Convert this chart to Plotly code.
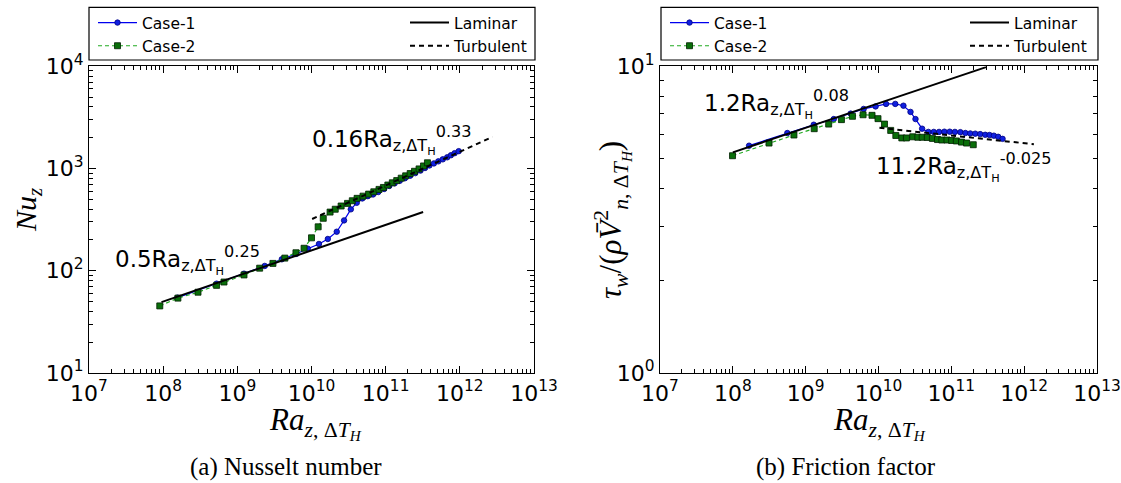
import plotly.graph_objects as go

# ---------------- data ----------------
# (a) Nusselt number
nu_case1_ra = [1.56e8, 5.25e8, 1.23e9, 2.34e9, 3.98e9, 6.17e9, 8.91e9, 1.26e10, 1.66e10,
               2.19e10, 2.75e10, 3.39e10, 4.07e10, 4.84e10, 5.75e10, 6.76e10, 7.94e10,
               9.55e10, 1.12e11, 1.32e11, 1.55e11, 1.82e11, 2.14e11, 2.51e11, 2.95e11,
               3.39e11, 3.89e11, 4.47e11, 5.13e11, 5.89e11, 6.76e11, 7.59e11, 8.51e11, 9.66e11]
nu_case1 = [54.6, 74.8, 93.7, 111.5, 129.5, 145.9, 164.4, 182.8, 204.6,
            241, 311, 399, 462, 510, 537, 558, 589,
            631, 676, 716, 759, 804, 851, 902, 955,
            1012, 1072, 1122, 1175, 1230, 1288, 1349, 1413, 1479]

nu_case2_ra = [9.0e7, 1.58e8, 2.95e8, 5.25e8, 6.61e8, 1.23e9, 2.0e9, 3.02e9, 4.37e9, 6.17e9,
               7.94e9, 1.0e10, 1.23e10, 1.44e10, 1.78e10, 2.09e10, 2.51e10, 3.06e10, 3.55e10,
               4.12e10, 4.95e10, 5.89e10, 6.92e10, 8.13e10, 9.33e10, 1.07e11, 1.23e11,
               1.41e11, 1.62e11, 1.86e11, 2.14e11, 2.45e11, 2.82e11, 3.24e11, 3.66e11]
nu_case2 = [45.3, 54.0, 61.7, 72.0, 77.6, 91, 106, 118, 133, 150,
            166, 210, 269, 326, 375, 400, 430, 456, 484,
            511, 537, 562, 592, 625, 653, 690, 725,
            762, 805, 848, 893, 940, 992, 1060, 1138]

nu_lam_ra = [9.5e7, 3.2e11]
nu_lam = [49.4, 376]
nu_turb_ra = [1.02e10, 2.75e12]
nu_turb = [321, 2038]

# (b) Friction factor
cf_case1_ra = [1.67e8, 5.60e8, 1.29e9, 2.43e9, 4.15e9, 6.25e9, 9.12e9, 1.27e10, 1.70e10,
               2.20e10, 2.75e10, 3.22e10, 3.97e10, 4.84e10, 5.74e10, 6.79e10, 8.02e10,
               9.51e10, 1.12e11, 1.33e11, 1.56e11, 1.82e11, 2.13e11, 2.49e11, 2.92e11,
               3.35e11, 3.84e11, 4.40e11, 5.05e11]
cf_case1 = [5.51, 6.06, 6.45, 6.73, 7.01, 7.26, 7.40, 7.54, 7.54,
            7.44, 7.10, 6.73, 6.26, 6.11, 6.11, 6.11, 6.12,
            6.12, 6.11, 6.10, 6.06, 6.04, 6.03, 6.01, 5.98,
            5.97, 5.94, 5.89, 5.80]

cf_case2_ra = [9.9e7, 3.14e8, 6.90e8, 1.31e9, 2.07e9, 3.10e9, 4.39e9, 6.14e9, 8.15e9,
               9.84e9, 1.21e10, 1.47e10, 1.73e10, 2.09e10, 2.42e10, 2.95e10, 3.47e10,
               3.98e10, 4.68e10, 5.50e10, 6.46e10, 7.41e10, 8.71e10, 1.01e11, 1.17e11,
               1.38e11, 1.62e11, 2.0e11]
cf_case2 = [5.11, 5.62, 5.97, 6.26, 6.48, 6.70, 6.87, 6.95, 6.92,
            6.75, 6.48, 6.18, 5.95, 5.84, 5.84, 5.89, 5.87,
            5.87, 5.86, 5.82, 5.77, 5.75, 5.75, 5.73, 5.71,
            5.66, 5.62, 5.55]

cf_lam_ra = [1.0e8, 3.0e11]
cf_lam = [5.24, 9.94]
cf_turb_ra = [1.03e10, 1.36e12]
cf_turb = [6.30, 5.57]

x_tickvals = [1e7, 1e8, 1e9, 1e10, 1e11, 1e12, 1e13]
x_ticktext = ["10<sup>7</sup>", "10<sup>8</sup>", "10<sup>9</sup>", "10<sup>10</sup>",
              "10<sup>11</sup>", "10<sup>12</sup>", "10<sup>13</sup>"]
nu_tickvals = [1e1, 1e2, 1e3, 1e4]
nu_ticktext = ["10<sup>1</sup>", "10<sup>2</sup>", "10<sup>3</sup>", "10<sup>4</sup>"]
cf_tickvals = [1e0, 1e1]
cf_ticktext = ["10<sup>0</sup>", "10<sup>1</sup>"]

# ---------------- figure ----------------
W, H = 1121, 483
def px(x):
    return x / W
def py(y):
    return 1 - y / H

fig = go.Figure()

c1 = dict(color="#0000ee", width=1.2)
c1m = dict(symbol="circle", size=5.5, color="#1020e0", line=dict(color="#000080", width=0.8))
c2 = dict(color="#22aa22", width=1.2, dash="4px,3px")
c2m = dict(symbol="square", size=6, color="#0a6e0a", line=dict(color="#002000", width=0.8))
lam = dict(color="black", width=2)
turb = dict(color="black", width=2, dash="5px,4px")

# panel (a)
fig.add_trace(go.Scatter(x=nu_case1_ra, y=nu_case1, mode="lines+markers", name="Case-1",
                         line=c1, marker=c1m, xaxis="x", yaxis="y", legend="legend"))
fig.add_trace(go.Scatter(x=nu_case2_ra, y=nu_case2, mode="lines+markers", name="Case-2",
                         line=c2, marker=c2m, xaxis="x", yaxis="y", legend="legend"))
fig.add_trace(go.Scatter(x=nu_lam_ra, y=nu_lam, mode="lines", name="Laminar",
                         line=lam, xaxis="x", yaxis="y", legend="legend2"))
fig.add_trace(go.Scatter(x=nu_turb_ra, y=nu_turb, mode="lines", name="Turbulent",
                         line=turb, xaxis="x", yaxis="y", legend="legend2"))
# panel (b)
fig.add_trace(go.Scatter(x=cf_case1_ra, y=cf_case1, mode="lines+markers", name="Case-1",
                         line=c1, marker=c1m, xaxis="x2", yaxis="y2", legend="legend3"))
fig.add_trace(go.Scatter(x=cf_case2_ra, y=cf_case2, mode="lines+markers", name="Case-2",
                         line=c2, marker=c2m, xaxis="x2", yaxis="y2", legend="legend3"))
fig.add_trace(go.Scatter(x=cf_lam_ra, y=cf_lam, mode="lines", name="Laminar",
                         line=lam, xaxis="x2", yaxis="y2", legend="legend4"))
fig.add_trace(go.Scatter(x=cf_turb_ra, y=cf_turb, mode="lines", name="Turbulent",
                         line=turb, xaxis="x2", yaxis="y2", legend="legend4"))

tickfont = dict(family="DejaVu Sans", size=22, color="black")

def minor_vals(lo, hi):
    return [m * 10 ** e for e in range(lo, hi) for m in range(2, 10)]

def axis(domain, rng, tv, tt, anchor, minor):
    return dict(domain=domain, type="log", range=rng, tickmode="array", tickvals=tv,
                ticktext=tt, ticks="inside", ticklen=7, tickwidth=1, tickcolor="black",
                showline=True, linecolor="black", linewidth=1.2, mirror="allticks",
                showgrid=False, zeroline=False, tickfont=tickfont, anchor=anchor,
                automargin=False,
                minor=dict(tickmode="array", tickvals=minor, ticks="inside", ticklen=4,
                           tickwidth=1, tickcolor="black", showgrid=False))

xd1 = [px(89), px(534)]
xd2 = [px(660), px(1097)]
yd = [py(373), py(66.3)]

fig.update_layout(
    width=W, height=H, margin=dict(l=0, r=0, t=0, b=0, pad=0, autoexpand=False),
    paper_bgcolor="white", plot_bgcolor="white", showlegend=True,
    xaxis=axis(xd1, [7, 13], x_tickvals, x_ticktext, "y", minor_vals(7, 13)),
    yaxis=axis(yd, [1, 4], nu_tickvals, nu_ticktext, "x", minor_vals(1, 4)),
    xaxis2=axis(xd2, [7, 13], x_tickvals, x_ticktext, "y2", minor_vals(7, 13)),
    yaxis2=axis(yd, [0, 1], cf_tickvals, cf_ticktext, "x2", minor_vals(0, 1)),
)

legfont = dict(family="DejaVu Sans", size=15.5, color="black")
legcommon = dict(font=legfont, bgcolor="rgba(0,0,0,0)", borderwidth=0, itemwidth=39,
                 tracegroupgap=0, orientation="v", yanchor="top", xanchor="left")
fig.update_layout(
    legend=dict(x=px(93), y=py(6), **legcommon),
    legend2=dict(x=px(405), y=py(6), **legcommon),
    legend3=dict(x=px(665), y=py(6), **legcommon),
    legend4=dict(x=px(965), y=py(6), **legcommon),
)

# legend frames
for x0, x1 in [(89, 535), (661, 1098)]:
    fig.add_shape(type="rect", xref="paper", yref="paper", x0=px(x0), x1=px(x1),
                  y0=py(60), y1=py(7.3), line=dict(color="black", width=1.2),
                  fillcolor="rgba(0,0,0,0)")

ann_font = dict(family="DejaVu Sans", size=23, color="black")
sub = "<sub>z,ΔT<sub>H</sub></sub>"
def corr(c, e):
    return f"{c}Ra{sub}<sup>{e}</sup>"

anns = [
    dict(x=px(113), y=py(266), text=corr("0.5", "0.25")),
    dict(x=px(310), y=py(146), text=corr("0.16", "0.33")),
    dict(x=px(702), y=py(110), text=corr("1.2", "0.08")),
    dict(x=px(874), y=py(173), text=corr("11.2", "-0.025")),
]
for a in anns:
    fig.add_annotation(xref="paper", yref="paper", xanchor="left", yanchor="bottom",
                       showarrow=False, font=ann_font, yshift=-14, **{k: v for k, v in a.items()})

serif = "Liberation Serif"
titles = [
    dict(x=px(315), y=py(423), text="<i>Ra</i><sub><i>z</i>, Δ<i>T</i><sub><i>H</i></sub></sub>",
         size=31, angle=0),
    dict(x=px(879), y=py(423), text="<i>Ra</i><sub><i>z</i>, Δ<i>T</i><sub><i>H</i></sub></sub>",
         size=31, angle=0),
    dict(x=px(28), y=py(210), text="<i>Nu</i><sub><i>z</i></sub>", size=30, angle=-90),
    dict(x=px(612), y=py(220),
         text="<i>τ</i><sub><i>w</i></sub>/(<i>ρ</i><i>V̄</i><sup>2</sup><sub><i>n</i>, Δ<i>T</i><sub><i>H</i></sub></sub>)",
         size=31, angle=-90),
    dict(x=px(286), y=py(467), text="(a) Nusselt number", size=25, angle=0),
    dict(x=px(846), y=py(467), text="(b) Friction factor", size=25, angle=0),
]
for t in titles:
    fig.add_annotation(xref="paper", yref="paper", x=t["x"], y=t["y"], text=t["text"],
                       showarrow=False, textangle=t["angle"], xanchor="center", yanchor="middle",
                       font=dict(family=serif, size=t["size"], color="black"))

fig.write_html("out.html")
